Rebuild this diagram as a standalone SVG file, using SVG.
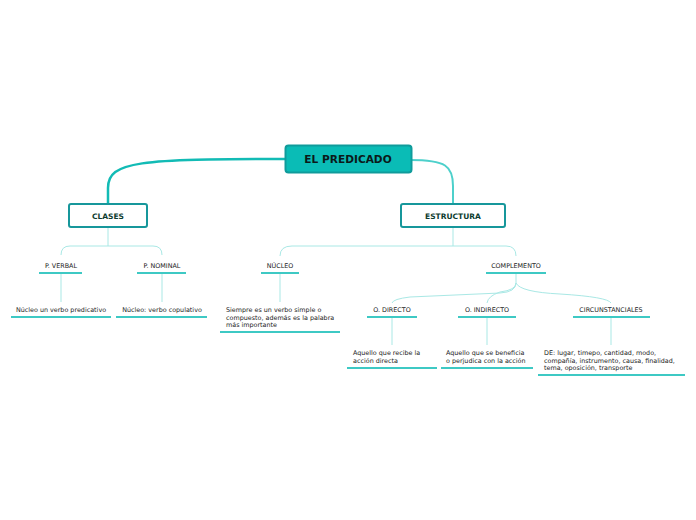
<svg xmlns="http://www.w3.org/2000/svg" width="696" height="520" viewBox="0 0 696 520">
<style>
.t{font-family:"DejaVu Sans",Verdana,sans-serif;font-size:6.4px;fill:#222}
.tc{text-anchor:middle}
.ul{stroke:#3ec9c4;stroke-width:2;fill:none}
.c1{stroke:#a9e8e5;stroke-width:1;fill:none}
.h1{fill:#fff;stroke:#17979b;stroke-width:2}
.h1t{font-family:"DejaVu Sans",Verdana,sans-serif;font-size:7.5px;font-weight:bold;fill:#0c3b2e;text-anchor:middle}
</style>
<rect width="696" height="520" fill="#fff"/>
<g id="connectors">
<path d="M286,159 C140,159 108,161 108,188 L108,204" stroke="#12bbb5" stroke-width="2.5" fill="none"/>
<path d="M410,160 C446,160 453,166 453,186 L453,204" stroke="#4dd0cb" stroke-width="2" fill="none"/>
<path class="c1" d="M108,227 L108,246 M108,246 L70,246 Q61,246 61,255 M108,246 L153,246 Q162,246 162,255"/>
<path class="c1" d="M453,227 L453,246 M453,246 L292,246 Q280,246 280,256 M453,246 L506,246 Q516,246 516,256"/>
<path class="c1" d="M61,274 L61,302 M162,274 L162,302 M280,274 L280,302"/>
<path class="c1" d="M516,274 L516,283 Q516,292 500,293 L410,297 Q393,299 392,303 M516,283 Q516,290 500,292 Q488,296 487,303 M516,283 Q520,292 560,294 Q608,297 611,303"/>
<path class="c1" d="M392,318 L392,345 M487,318 L487,345 M611,318 L611,345"/>
</g>
<g id="n-predicado">
<rect x="285.5" y="145.5" width="126" height="27" rx="3" fill="#0abcb6" stroke="#109b9b" stroke-width="2"/>
<text x="348" y="163" font-family="'DejaVu Sans',Verdana,sans-serif" font-size="10.6" font-weight="bold" fill="#0b1a1a" text-anchor="middle">EL PREDICADO</text>
</g>
<g id="n-clases">
<rect class="h1" x="69" y="204" width="78" height="23" rx="2"/>
<text class="h1t" x="108" y="218.5">CLASES</text>
</g>
<g id="n-estructura">
<rect class="h1" x="401" y="204" width="104" height="23" rx="2"/>
<text class="h1t" x="453" y="218.5">ESTRUCTURA</text>
</g>
<g id="n-pverbal">
<text class="t tc" x="61" y="268">P. VERBAL</text>
<path class="ul" d="M39,273 H82"/>
</g>
<g id="n-pnominal">
<text class="t tc" x="162" y="268">P. NOMINAL</text>
<path class="ul" d="M137,273 H186"/>
</g>
<g id="n-pverbal-d">
<text class="t tc" x="61" y="312">Núcleo un verbo predicativo</text>
<path class="ul" d="M11,317 H111"/>
</g>
<g id="n-pnominal-d">
<text class="t tc" x="162" y="312">Núcleo:  verbo copulativo</text>
<path class="ul" d="M116,317 H207"/>
</g>
<g id="n-nucleo">
<text class="t tc" x="280" y="268">NÚCLEO</text>
<path class="ul" d="M261,273 H299"/>
</g>
<g id="n-nucleo-d">
<text class="t" x="226" y="312">Siempre es un verbo simple o</text>
<text class="t" x="226" y="319.5">compuesto, además es la palabra</text>
<text class="t" x="226" y="327">más importante</text>
<path class="ul" d="M220,332 H340"/>
</g>
<g id="n-complemento">
<text class="t tc" x="516" y="268">COMPLEMENTO</text>
<path class="ul" d="M486,273 H546"/>
</g>
<g id="n-odirecto">
<text class="t tc" x="392" y="312">O. DIRECTO</text>
<path class="ul" d="M367,317 H417"/>
</g>
<g id="n-oindirecto">
<text class="t tc" x="487" y="312">O. INDIRECTO</text>
<path class="ul" d="M458,317 H516"/>
</g>
<g id="n-circ">
<text class="t tc" x="611" y="312">CIRCUNSTANCIALES</text>
<path class="ul" d="M573,317 H650"/>
</g>
<g id="n-odirecto-d">
<text class="t" x="353" y="355">Aquello que recibe  la</text>
<text class="t" x="353" y="362.5">acción directa</text>
<path class="ul" d="M347,368 H437"/>
</g>
<g id="n-oindirecto-d">
<text class="t" x="446" y="355">Aquello que se beneficia</text>
<text class="t" x="446" y="362.5">o perjudica con la acción</text>
<path class="ul" d="M441,368 H533"/>
</g>
<g id="n-circ-d">
<text class="t" x="544" y="355">DE: lugar, timepo, cantidad, modo,</text>
<text class="t" x="544" y="362.5">compañía, instrumento, causa, finalidad,</text>
<text class="t" x="544" y="370">tema, oposición, transporte</text>
<path class="ul" d="M538,375 H685"/>
</g>
</svg>
